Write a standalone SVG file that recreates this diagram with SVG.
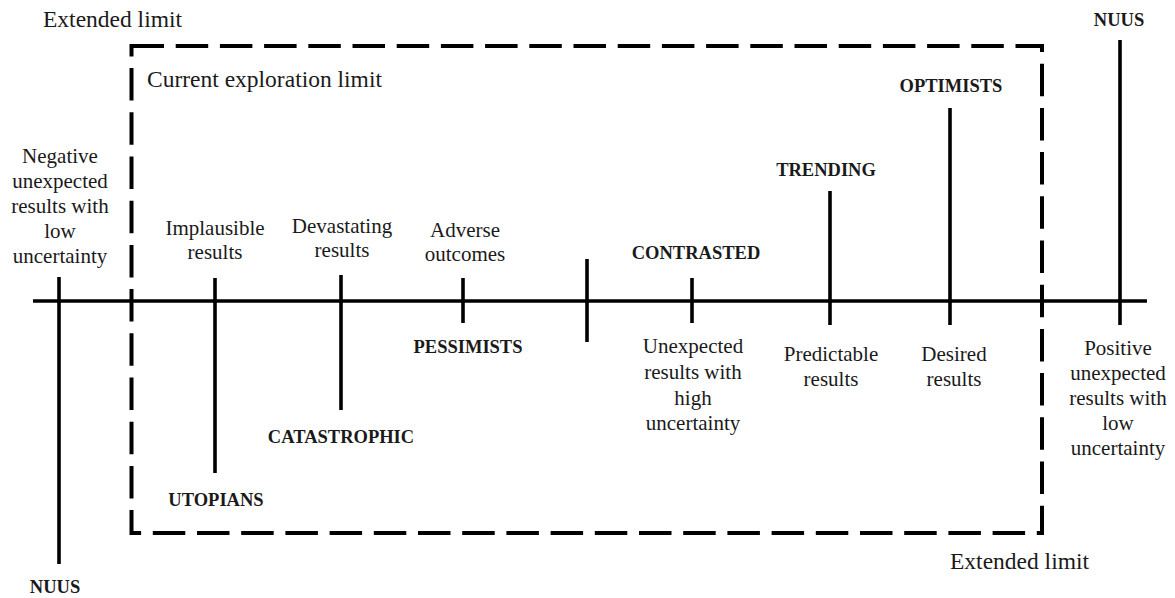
<svg xmlns="http://www.w3.org/2000/svg" width="1175" height="598" viewBox="0 0 1175 598">
<style>
text{font-family:"Liberation Serif","Times New Roman",serif;fill:#1a1a1a;text-anchor:middle}
.t{font-size:23.5px;text-anchor:start}
.r{font-size:21px}
.b{font-size:18.5px;font-weight:bold}
.ln{stroke:#000;stroke-width:3.6;fill:none}
.dash{stroke:#000;stroke-width:4;fill:none;stroke-dasharray:32.5 11.7}
</style>
<rect width="1175" height="598" fill="#fff"/>
<g id="limits">
<rect id="current-limit" class="dash" x="131.5" y="46" width="910.5" height="487"/>
<text class="t" x="43" y="27">Extended limit</text>
<text class="t" x="147" y="87">Current exploration limit</text>
<text class="t" x="950" y="569">Extended limit</text>
</g>
<g id="connectors">
<line class="ln" x1="33" y1="301" x2="1147" y2="301"/>
</g>
<g id="nuus-left">
<line class="ln" x1="59" y1="277" x2="59" y2="564"/>
<text class="r" x="60"><tspan x="60" y="163">Negative</tspan><tspan x="60" y="188">unexpected</tspan><tspan x="60" y="213">results with</tspan><tspan x="60" y="238">low</tspan><tspan x="60" y="263">uncertainty</tspan></text>
<text class="b" x="55" y="593">NUUS</text>
</g>
<g id="utopians">
<line class="ln" x1="215" y1="278" x2="215" y2="473"/>
<text class="r"><tspan x="215" y="235">Implausible</tspan><tspan x="215" y="259">results</tspan></text>
<text class="b" x="216" y="506">UTOPIANS</text>
</g>
<g id="catastrophic">
<line class="ln" x1="341" y1="275" x2="341" y2="410"/>
<text class="r"><tspan x="342" y="233">Devastating</tspan><tspan x="342" y="257">results</tspan></text>
<text class="b" x="341" y="443">CATASTROPHIC</text>
</g>
<g id="pessimists">
<line class="ln" x1="463" y1="278" x2="463" y2="323"/>
<text class="r"><tspan x="465" y="237">Adverse</tspan><tspan x="465" y="261">outcomes</tspan></text>
<text class="b" x="468" y="353">PESSIMISTS</text>
</g>
<g id="center-tick">
<line class="ln" x1="587" y1="259" x2="587" y2="342"/>
</g>
<g id="contrasted">
<line class="ln" x1="692" y1="278" x2="692" y2="323"/>
<text class="b" x="696" y="259">CONTRASTED</text>
<text class="r"><tspan x="693" y="353">Unexpected</tspan><tspan x="693" y="379">results with</tspan><tspan x="693" y="405">high</tspan><tspan x="693" y="430">uncertainty</tspan></text>
</g>
<g id="trending">
<line class="ln" x1="830" y1="191" x2="830" y2="325"/>
<text class="b" x="826" y="176">TRENDING</text>
<text class="r"><tspan x="831" y="361">Predictable</tspan><tspan x="831" y="386">results</tspan></text>
</g>
<g id="optimists">
<line class="ln" x1="950" y1="108" x2="950" y2="325"/>
<text class="b" x="951" y="92">OPTIMISTS</text>
<text class="r"><tspan x="954" y="361">Desired</tspan><tspan x="954" y="386">results</tspan></text>
</g>
<g id="nuus-right">
<line class="ln" x1="1120" y1="40" x2="1120" y2="325"/>
<text class="b" x="1119" y="26">NUUS</text>
<text class="r"><tspan x="1118" y="355">Positive</tspan><tspan x="1118" y="380">unexpected</tspan><tspan x="1118" y="405">results with</tspan><tspan x="1118" y="430">low</tspan><tspan x="1118" y="455">uncertainty</tspan></text>
</g>
</svg>
